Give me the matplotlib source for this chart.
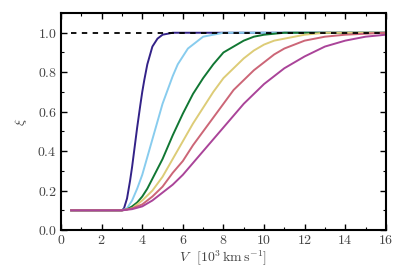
import matplotlib
matplotlib.use("Agg")
import matplotlib.pyplot as plt
from matplotlib.ticker import MultipleLocator

plt.rcParams['font.family'] = 'serif'
plt.rcParams['font.serif'] = ['cmr10']
plt.rcParams['mathtext.fontset'] = 'cm'
plt.rcParams['axes.formatter.use_mathtext'] = True
plt.rcParams['axes.unicode_minus'] = False

# curves: velocity V [10^3 km/s] and xi
v_indigo = [0.5, 3.0, 3.1, 3.25, 3.4, 3.5, 3.6, 3.75, 3.9, 4.0, 4.1, 4.25, 4.5, 4.75, 5.0, 5.5, 16.0]
xi_indigo = [0.1, 0.1, 0.11, 0.16, 0.25, 0.32, 0.40, 0.52, 0.63, 0.70, 0.76, 0.84, 0.93, 0.97, 0.99, 1.0, 1.0]

v_cyan = [0.5, 3.0, 3.25, 3.5, 3.75, 4.0, 4.25, 4.5, 4.75, 5.0, 5.25, 5.5, 5.75, 6.0, 6.25,
          6.5, 7.0, 7.5, 8.0, 16.0]
xi_cyan = [0.1, 0.1, 0.11, 0.15, 0.21, 0.28, 0.37, 0.46, 0.55, 0.64, 0.71, 0.78, 0.84, 0.88, 0.92,
           0.94, 0.98, 0.99, 1.0, 1.0]

v_green = [0.5, 3.0, 3.25, 3.5, 3.75, 4.0, 4.25, 4.5, 4.75, 5.0, 5.5, 6.0, 6.5, 7.0, 7.5, 8.0,
           8.5, 9.0, 9.5, 10.0, 10.5, 11.0, 16.0]
xi_green = [0.1, 0.1, 0.105, 0.12, 0.14, 0.17, 0.21, 0.26, 0.31, 0.36, 0.48, 0.59, 0.69, 0.77, 0.84, 0.90,
            0.93, 0.96, 0.98, 0.99, 0.995, 1.0, 1.0]

v_sand = [0.5, 3.0, 3.5, 4.0, 4.5, 5.0, 5.5, 6.0, 6.5, 7.0, 7.5, 8.0, 8.5, 9.0, 9.5, 10.0,
          10.5, 11.0, 11.5, 12.0, 13.0, 16.0]
xi_sand = [0.1, 0.1, 0.11, 0.15, 0.20, 0.27, 0.36, 0.45, 0.54, 0.62, 0.70, 0.77, 0.82, 0.87, 0.91, 0.94,
           0.96, 0.97, 0.98, 0.99, 1.0, 1.0]

v_rose = [0.5, 3.0, 3.5, 4.0, 4.5, 5.0, 5.5, 6.0, 6.5, 7.0, 7.5, 8.0, 8.5, 9.0, 9.5, 10.0,
          10.5, 11.0, 11.5, 12.0, 12.5, 13.0, 14.0, 15.0, 16.0]
xi_rose = [0.1, 0.1, 0.11, 0.13, 0.17, 0.22, 0.29, 0.35, 0.43, 0.50, 0.57, 0.64, 0.71, 0.76, 0.81, 0.85,
           0.89, 0.92, 0.94, 0.96, 0.97, 0.98, 0.99, 0.995, 1.0]

v_purple = [0.5, 3.0, 3.5, 4.0, 4.5, 5.0, 5.5, 6.0, 6.5, 7.0, 7.5, 8.0, 8.5, 9.0, 9.5, 10.0,
            10.5, 11.0, 11.5, 12.0, 13.0, 14.0, 15.0, 16.0]
xi_purple = [0.1, 0.1, 0.106, 0.12, 0.15, 0.19, 0.23, 0.28, 0.34, 0.40, 0.46, 0.52, 0.58, 0.64, 0.69, 0.74,
             0.78, 0.82, 0.85, 0.88, 0.93, 0.96, 0.98, 0.99]

fig = plt.figure(figsize=(4.07, 2.71), dpi=100)
ax = fig.add_axes([0.150, 0.151, 0.798, 0.801])

ax.plot(v_indigo, xi_indigo, color='#332288', lw=1.4)
ax.plot(v_cyan, xi_cyan, color='#88CCEE', lw=1.4)
ax.plot(v_green, xi_green, color='#117733', lw=1.4)
ax.plot(v_sand, xi_sand, color='#DDCC77', lw=1.4)
ax.plot(v_rose, xi_rose, color='#CC6677', lw=1.4)
ax.plot(v_purple, xi_purple, color='#AA4499', lw=1.4)
ax.plot([0.5, 16.0], [1.0, 1.0], color='k', ls='--', lw=1.3, dashes=(3, 3), zorder=5)

ax.set_xlim(0, 16)
ax.set_ylim(0, 1.1)
ax.xaxis.set_major_locator(MultipleLocator(2))
ax.xaxis.set_minor_locator(MultipleLocator(1))
ax.yaxis.set_major_locator(MultipleLocator(0.2))
ax.yaxis.set_minor_locator(MultipleLocator(0.1))
ax.tick_params(which='both', direction='in', top=True, right=True, labelsize=10,
               pad=3, labelcolor='#444444')
ax.tick_params(which='major', length=4, width=1)
ax.tick_params(which='minor', length=2, width=0.8)
for s in ax.spines.values():
    s.set_linewidth(1.5)

ax.set_xlabel(r'$V$  $[10^3\,\mathrm{km\,s^{-1}}]$', fontsize=10, labelpad=1, color='#444444')
ax.set_ylabel(r'$\xi$', fontsize=10, labelpad=6, color='#444444')

fig.savefig('out.png', dpi=100)
